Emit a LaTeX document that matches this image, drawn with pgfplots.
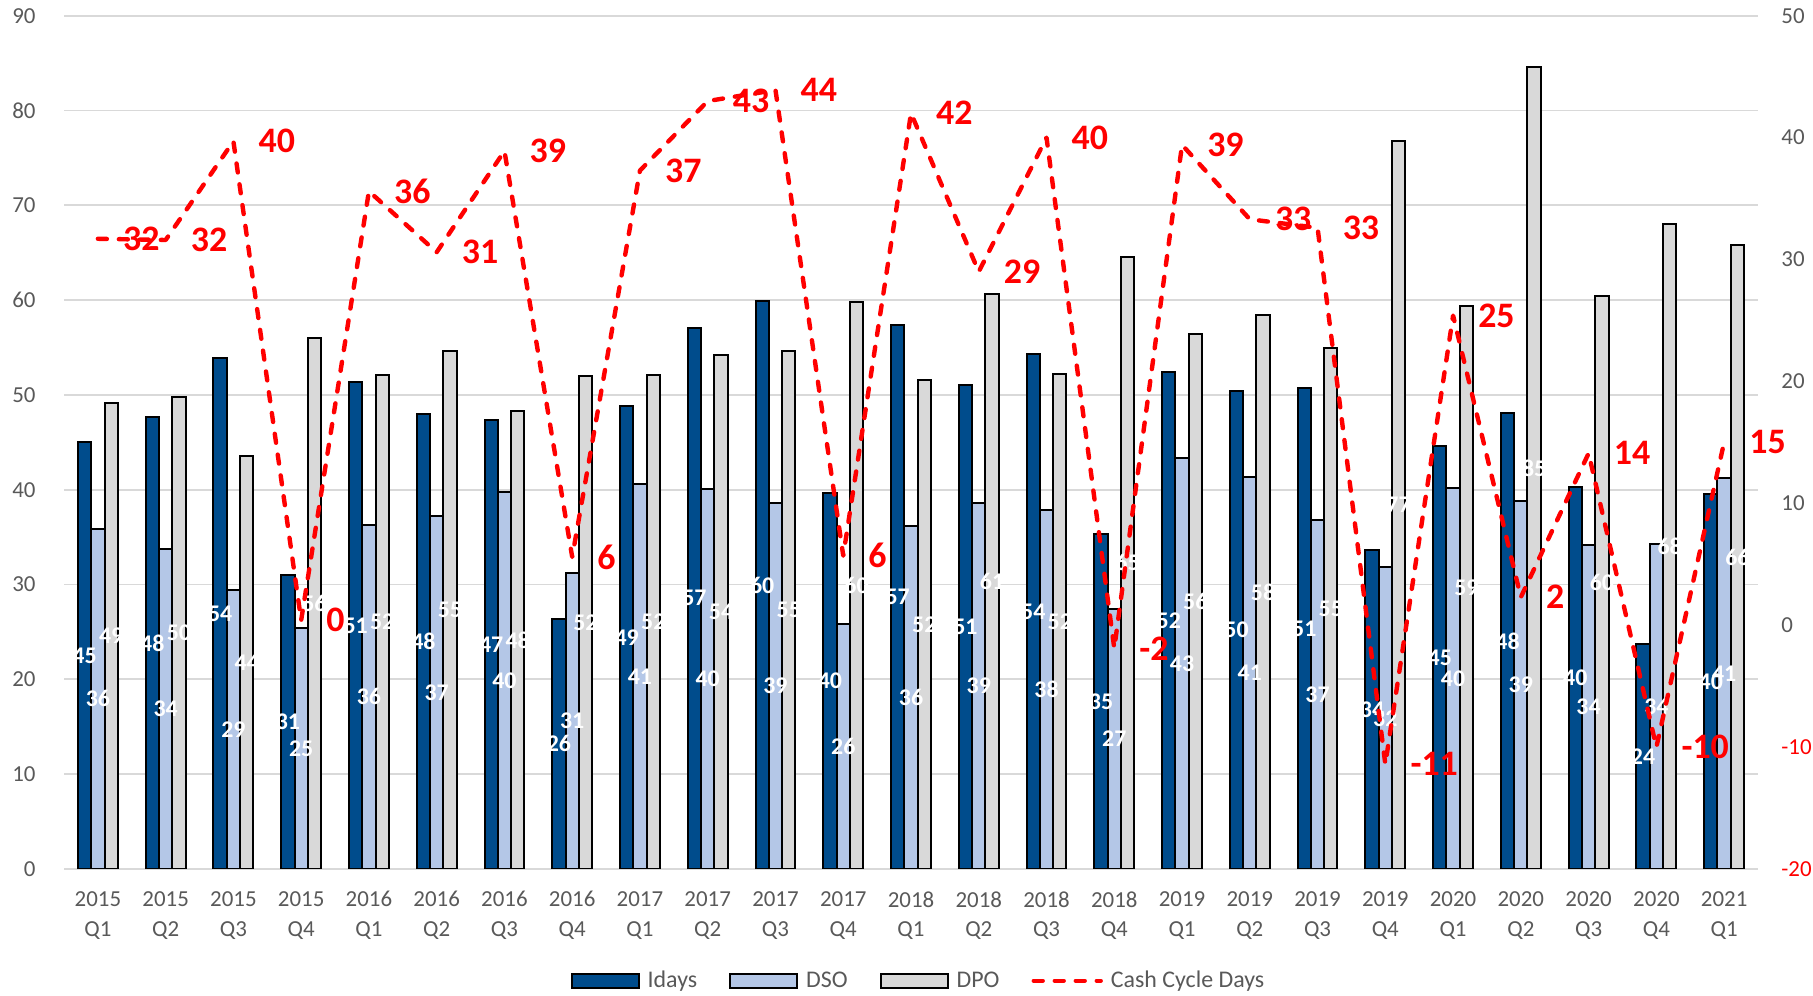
\documentclass[border=0pt]{standalone}
\usepackage{pgfplots}
\pgfplotsset{compat=1.18}
\usepackage{pgfplotstable}
\usepackage{fontspec}
\setmainfont{Carlito}

\definecolor{idays}{RGB}{0,76,140}
\definecolor{dso}{RGB}{180,199,231}
\definecolor{dpo}{RGB}{217,217,217}
\definecolor{gridc}{RGB}{217,217,217}
\definecolor{txtc}{RGB}{89,89,89}

% quarter index, Idays, DSO, DPO, cash cycle days
\pgfplotstableread{
x  idays dso  dpo  ccd
0  45.0  35.9 49.2 31.7
1  47.7  33.7 49.8 31.6
2  53.9  29.4 43.6 39.7
3  31.0  25.4 56.0 0.4
4  51.4  36.3 52.1 35.6
5  48.0  37.2 54.6 30.6
6  47.4  39.8 48.3 38.9
7  26.4  31.2 52.0 5.6
8  48.8  40.6 52.1 37.3
9  57.1  40.1 54.2 43.0
10 59.9  38.6 54.6 43.9
11 39.7  25.8 59.8 5.7
12 57.4  36.2 51.6 42.0
13 51.0  38.6 60.6 29.0
14 54.3  37.9 52.2 40.0
15 35.3  27.4 64.6 -1.9
16 52.4  43.4 56.4 39.4
17 50.4  41.3 58.4 33.3
18 50.7  36.8 54.9 32.6
19 33.6  31.8 76.8 -11.4
20 44.6  40.2 59.4 25.4
21 48.1  38.8 84.6 2.3
22 40.3  34.2 60.4 14.1
23 23.7  34.3 68.0 -10.0
24 39.6  41.2 65.8 15.0
}\data

\pgfplotsset{
  barleg/.style={legend image code/.code={\draw[##1] (0bp,-3.5bp) rectangle (33.5bp,3.5bp);}},
  lineleg/.style={legend image code/.code={\draw[##1] (0bp,0bp) -- (33.5bp,0bp);}},
  common/.style={
    scale only axis, width=847bp, height=426.65bp,
    at={(32bp,63.5bp)}, anchor=south west,
    xmin=-0.5, xmax=24.5,
    axis line style={draw=none}, tick style={draw=none},
    tick label style={font=\fontsize{11.5}{15}\selectfont, text=txtc},
    /pgf/number format/assume math mode=true,
  },
  wlab/.style={forget plot, draw=none, mark=none, point meta=explicit,
    nodes near coords={\pgfmathprintnumber[fixed,precision=0]{\pgfplotspointmeta}},
    nodes near coords style={anchor=center, inner sep=0pt, text=white,
      font=\fontsize{12}{12}\selectfont\bfseries}},
}

\begin{document}
\begin{tikzpicture}
\path[use as bounding box] (0,0) rectangle (906.5bp,498bp);

\begin{axis}[common,
    ymin=0, ymax=90, ytick={0,10,...,90},
    ymajorgrids, major grid style={gridc, line width=0.9bp},
    yticklabel style={inner sep=0pt, xshift=-14bp},
    xtick={0,...,24},
    xticklabels={{2015\\Q1},{2015\\Q2},{2015\\Q3},{2015\\Q4},
      {2016\\Q1},{2016\\Q2},{2016\\Q3},{2016\\Q4},
      {2017\\Q1},{2017\\Q2},{2017\\Q3},{2017\\Q4},
      {2018\\Q1},{2018\\Q2},{2018\\Q3},{2018\\Q4},
      {2019\\Q1},{2019\\Q2},{2019\\Q3},{2019\\Q4},
      {2020\\Q1},{2020\\Q2},{2020\\Q3},{2020\\Q4},
      {2021\\Q1}},
    xticklabel style={align=center, inner sep=0pt, yshift=-11bp},
    legend columns=4,
    legend style={at={(0.505,-0.131)}, anchor=center, draw=none,
      font=\fontsize{12}{14}\selectfont, text=txtc,
      /tikz/every even column/.append style={column sep=14bp},
      /tikz/every odd column/.append style={column sep=2bp}},
]
\addplot[ybar, barleg, bar width=0.196, bar shift=-0.196, fill=idays, draw=black, line width=1bp]
  table[x=x, y=idays] {\data};
\addlegendentry{Idays}
\addplot[ybar, barleg, bar width=0.196, bar shift=0, fill=dso, draw=black, line width=1bp]
  table[x=x, y=dso] {\data};
\addlegendentry{DSO}
\addplot[ybar, barleg, bar width=0.196, bar shift=0.196, fill=dpo, draw=black, line width=1bp]
  table[x=x, y=dpo] {\data};
\addlegendentry{DPO}
\addlegendimage{lineleg, red, line width=2.2bp, line cap=round, dash pattern=on 4.5bp off 6bp}
\addlegendentry{Cash Cycle Days}

% white value labels in the middle of each bar
\addplot[wlab] table[x expr=\thisrow{x}-0.196, y expr=\thisrow{idays}/2, meta=idays] {\data};
\addplot[wlab] table[x expr=\thisrow{x}, y expr=\thisrow{dso}/2, meta=dso] {\data};
\addplot[wlab] table[x expr=\thisrow{x}+0.196, y expr=\thisrow{dpo}/2, meta=dpo] {\data};
\end{axis}

\begin{axis}[common,
    clip=false,
    axis y line*=right, axis x line=none,
    ymin=-20, ymax=50, ytick={-20,-10,...,50},
    yticklabels={\textcolor{red}{-20},\textcolor{red}{-10},0,10,20,30,40,50},
    yticklabel style={inner sep=0pt, anchor=west, xshift=11.5bp},
]
\addplot[red, line width=2.2bp, line cap=round, line join=round,
    dash pattern=on 4.5bp off 6bp, mark=none, point meta=explicit,
    nodes near coords={\pgfmathprintnumber[fixed,precision=0]{\pgfplotspointmeta}},
    nodes near coords style={anchor=west, inner sep=0pt, xshift=11.5bp, text=red,
      solid, font=\fontsize{18}{18}\selectfont\bfseries}]
  table[x=x, y=ccd, meta=ccd] {\data};
\end{axis}
\end{tikzpicture}
\end{document}
